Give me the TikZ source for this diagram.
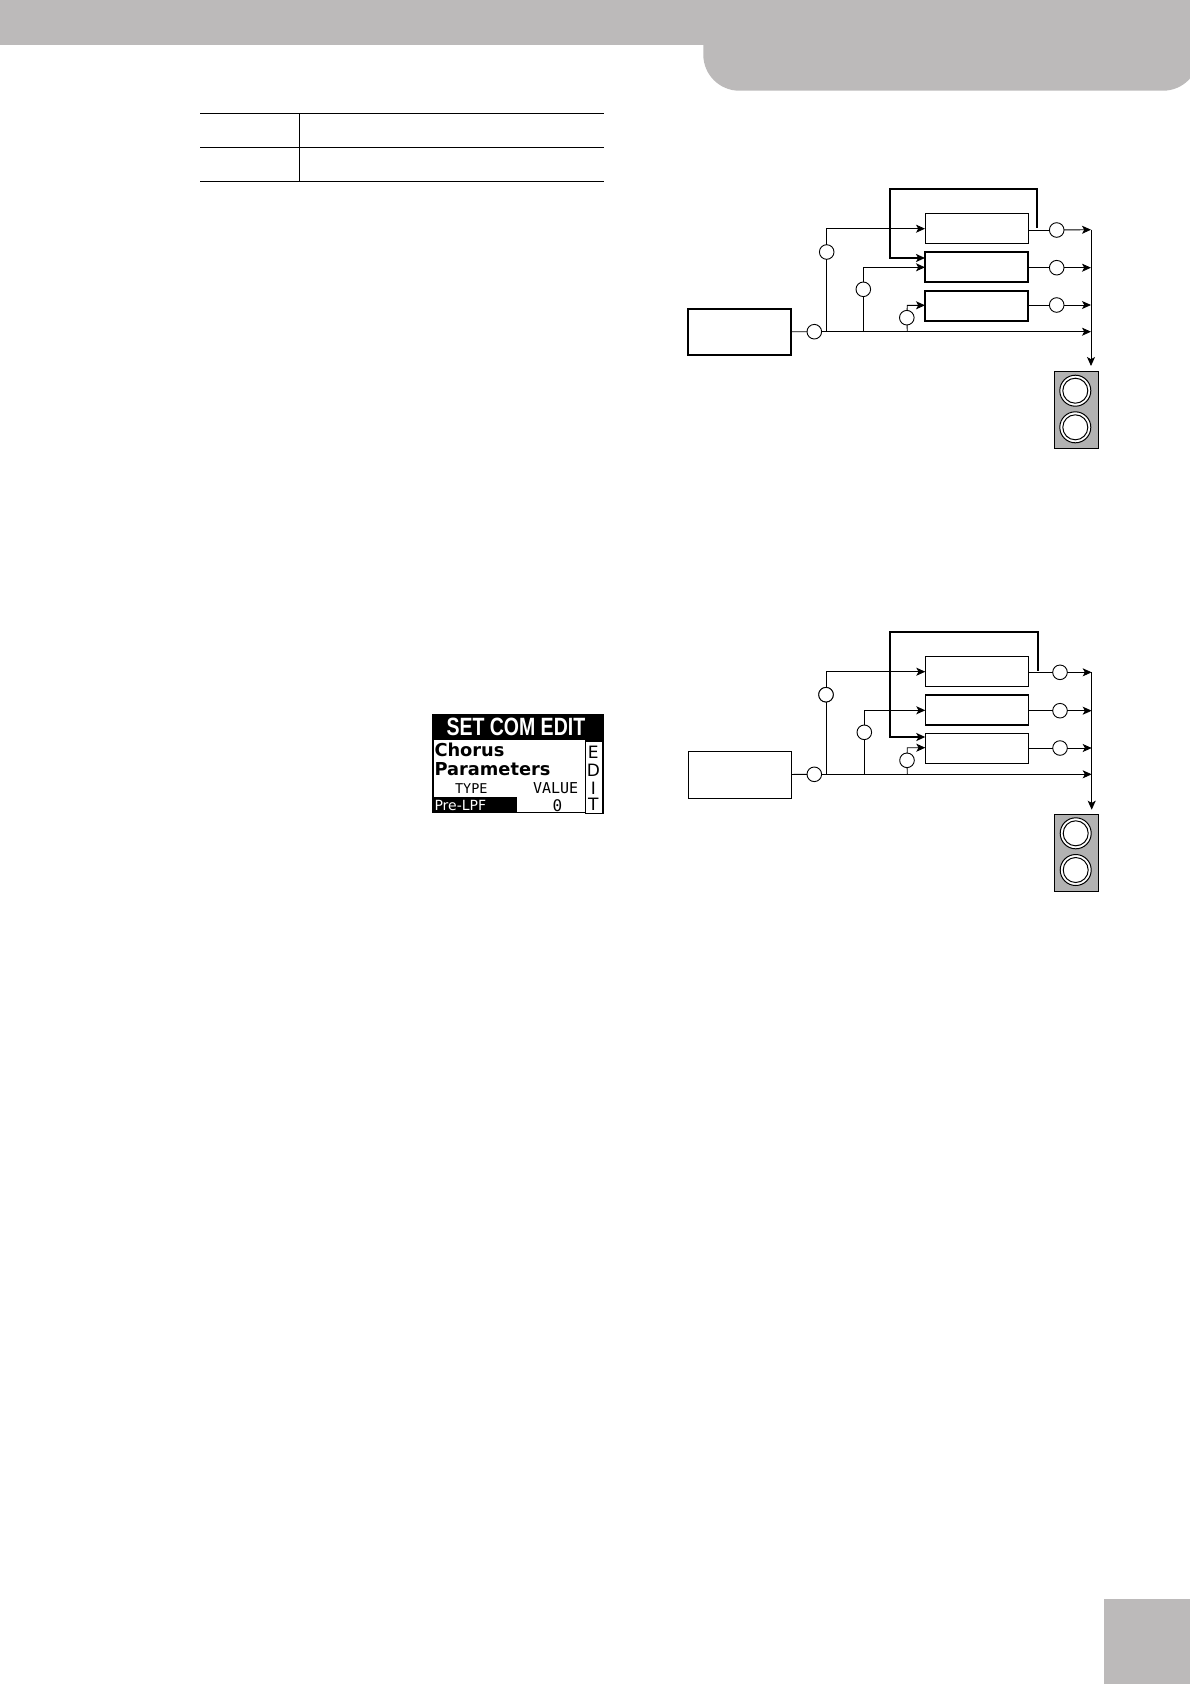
\documentclass[tikz,border=0pt]{standalone}
\usepackage{fontspec}
\setmainfont{DejaVu Sans}
\newfontfamily\lcdmono{DejaVu Sans Mono}
\newfontfamily\lcdcond{Liberation Sans}
\usetikzlibrary{arrows.meta}
\definecolor{band}{HTML}{BCBABA}
\definecolor{spk}{HTML}{B2B2B2}
\tikzset{
  thinbox/.style={draw=black,line width=1pt,fill=white,inner sep=0pt,outer sep=0pt},
  thickbox/.style={draw=black,line width=1.7pt,fill=white,inner sep=0pt,outer sep=0pt},
  level/.style={circle,draw=black,line width=0.9pt,fill=white,minimum size=14.6pt,inner sep=0pt,outer sep=0pt},
  wire/.style={draw=black,line width=0.9pt},
  arr/.style={wire,-{Stealth[length=9pt,width=8pt,inset=2.2pt]}},
  fb/.style={draw=black,line width=1.7pt},
  fbarr/.style={fb,-{Stealth[length=9pt,width=8pt,inset=2.2pt]}},
  spkbox/.style={draw=black,line width=0.9pt,fill=spk,inner sep=0pt,outer sep=0pt,minimum width=44pt,minimum height=77pt},
  cone/.style={circle,draw=black,line width=1pt,fill=white,minimum size=31pt,inner sep=0pt,outer sep=0pt},
  conein/.style={circle,draw=black,line width=1pt,fill=white,minimum size=25pt,inner sep=0pt,outer sep=0pt},
  rule/.style={draw=black,line width=0.9pt},
  lcdtxt/.style={inner sep=0pt,outer sep=0pt,anchor=base west},
  lcdside/.style={inner sep=0pt,outer sep=0pt,font=\fontsize{17}{17}\selectfont},
}
\begin{document}
\begin{tikzpicture}[x=1pt,y=-1pt]
\useasboundingbox (0,0) rectangle (1190,1684);
% page furniture
\begin{scope}
\clip (0,0) rectangle (1190,1684);
\fill[band] (0,0) rectangle (1190,44.7);
\fill[band,rounded corners=36pt] (703.3,30) -- (703.3,90.7) -- (1199,90.7) -- (1199,30) [sharp corners] -- cycle;
\fill[band] (1104,1599) rectangle (1190,1684);
\end{scope}
% table
\coordinate (ta) at (200,113.3); \coordinate (tb) at (604,113.3);
\coordinate (tc) at (200,147.3); \coordinate (td) at (604,147.3);
\coordinate (te) at (200,181.3); \coordinate (tf) at (604,181.3);
\coordinate (tg) at (299.3,113.3); \coordinate (th) at (299.3,181.3);
\draw[rule] (ta) -- (tb); \draw[rule] (tc) -- (td); \draw[rule] (te) -- (tf); \draw[rule] (tg) -- (th);
% LCD
\node[fill=black,inner sep=0pt,minimum width=171.5pt,minimum height=99.5pt,anchor=north west] (lcd) at (432,713.5) {};
\node[fill=white,inner sep=0pt,minimum width=169pt,minimum height=72pt,anchor=north west] (lcdbody) at (433.5,739.5) {};
\node[lcdtxt,text=white] (lcdhead) at (446.5,735.5) {\lcdcond\bfseries\fontsize{25}{25}\selectfont\scalebox{0.78}[1]{SET COM EDIT}};
\node[lcdtxt] (lcdch) at (434.5,756) {\fontsize{17.8}{17.8}\selectfont\bfseries Chorus};
\node[lcdtxt] (lcdpa) at (434.5,775.5) {\fontsize{17.8}{17.8}\selectfont\bfseries Parameters};
\node[lcdtxt] (lcdty) at (455,793) {\lcdmono\fontsize{13.5}{13.5}\selectfont TYPE};
\node[lcdtxt] (lcdva) at (533,793) {\lcdmono\fontsize{15}{15}\selectfont VALUE};
\node[fill=black,inner sep=0pt,minimum width=85pt,minimum height=16pt,anchor=north west] (lcdsel) at (432,796.5) {};
\node[lcdtxt,text=white] (lcdpre) at (434.5,810) {\fontsize{14}{14}\selectfont Pre-LPF};
\node[lcdtxt] (lcdz) at (552.5,811) {\lcdmono\fontsize{16}{16}\selectfont 0};
\node[draw=black,line width=1.6pt,fill=white,inner sep=0pt,minimum width=17.5pt,minimum height=72.5pt,anchor=north west] (lcdsidebox) at (584.5,740) {};
\node[lcdside] (lcde1) at (593.3,752.5) {E};
\node[lcdside] (lcdd) at (593.3,770.5) {D};
\node[lcdside] (lcdi) at (593.3,788) {I};
\node[lcdside] (lcdt) at (593.3,804.5) {T};
% ===== diagram 1
\node[thickbox,minimum width=103.3pt,minimum height=46pt] (as) at (739.4,332) {};
\node[level] (ac0) at (814.3,331.7) {};
\node[level] (ac1) at (826.7,252) {};
\node[level] (ac2) at (863.3,289.3) {};
\node[level] (ac3) at (906.8,317.7) {};
\node[thinbox,minimum width=103pt,minimum height=30pt] (ab1) at (976.8,228.5) {};
\node[thickbox,minimum width=103pt,minimum height=30pt] (ab2) at (976.8,266.8) {};
\node[thickbox,minimum width=103pt,minimum height=30pt] (ab3) at (976.8,306) {};
\node[level] (ao1) at (1056.7,230) {};
\node[level] (ao2) at (1056.7,267.7) {};
\node[level] (ao3) at (1056.7,305) {};
\coordinate (aj1) at (826.7,331.7); \coordinate (aj2) at (863.3,331.7); \coordinate (aj3) at (907.3,331.7);
\coordinate (at1) at (826.7,228.7); \coordinate (at2) at (863.3,267.3); \coordinate (at3) at (907.3,305.3);
\coordinate (ae1) at (925,228.7); \coordinate (ae2) at (925,267.3); \coordinate (ae3) at (925,305.3);
\coordinate (ar1) at (1091,229.7); \coordinate (ar2) at (1091,267.7); \coordinate (ar3) at (1091,305); \coordinate (ar4) at (1091,331.7); \coordinate (ar5) at (1091,366);
\coordinate (afs) at (1037,227.5); \coordinate (af1) at (1037,189); \coordinate (af2) at (890,189); \coordinate (af3) at (890,258); \coordinate (afe) at (925,258);
\draw[wire] (as) -- (ac0);
\draw[arr] (ac0) -- (ar4);
\draw[wire] (aj1) -- (ac1); \draw[arr] (ac1) -- (at1) -- (ae1);
\draw[wire] (aj2) -- (ac2); \draw[arr] (ac2) -- (at2) -- (ae2);
\draw[wire] (aj3) -- (ac3); \draw[arr] (ac3) -- (at3) -- (ae3);
\draw[wire] (ab1.east |- ao1) -- (ao1); \draw[arr] (ao1) -- (ar1);
\draw[wire] (ab2.east |- ao2) -- (ao2); \draw[arr] (ao2) -- (ar2);
\draw[wire] (ab3.east |- ao3) -- (ao3); \draw[arr] (ao3) -- (ar3);
\draw[fbarr] (afs) -- (af1) -- (af2) -- (af3) -- (afe);
\node[spkbox] (asp) at (1076.3,409.8) {};
\node[cone] (ac1o) at (1075.3,390.7) {};
\node[conein] (ac1i) at (1075.3,390.7) {};
\node[cone] (ac2o) at (1075.3,427.3) {};
\node[conein] (ac2i) at (1075.3,427.3) {};
\draw[arr] (ar1) -- (ar5);
% ===== diagram 2
\node[thinbox,minimum width=103.3pt,minimum height=47pt] (bs) at (740,774.8) {};
\node[level] (bc0) at (814.3,774.3) {};
\node[level] (bc1) at (826,694.7) {};
\node[level] (bc2) at (864.3,732.3) {};
\node[level] (bc3) at (907,760.3) {};
\node[thinbox,minimum width=103pt,minimum height=30pt] (bb1) at (977,671.3) {};
\node[thickbox,minimum width=103pt,minimum height=30pt] (bb2) at (977,710) {};
\node[thinbox,minimum width=103pt,minimum height=30pt] (bb3) at (977,748.3) {};
\node[level] (bo1) at (1060,672.3) {};
\node[level] (bo2) at (1060,710.7) {};
\node[level] (bo3) at (1060,748) {};
\coordinate (bj1) at (826.7,774.3); \coordinate (bj2) at (864.3,774.3); \coordinate (bj3) at (907.3,774.3);
\coordinate (bt1) at (826.7,671.7); \coordinate (bt2) at (864.3,710.3); \coordinate (bt3) at (907.3,747.7);
\coordinate (be1) at (925.3,671.7); \coordinate (be2) at (925.3,710.3); \coordinate (be3) at (925.3,747.7);
\coordinate (br1) at (1091.7,672.3); \coordinate (br2) at (1091.7,710.7); \coordinate (br3) at (1091.7,748); \coordinate (br4) at (1091.7,774.3); \coordinate (br5) at (1091.7,809.7);
\coordinate (bfs) at (1038,670.7); \coordinate (bf1) at (1038,631.7); \coordinate (bf2) at (890,631.7); \coordinate (bf3) at (890,737); \coordinate (bfe) at (925.3,737);
\draw[wire] (bs) -- (bc0);
\draw[arr] (bc0) -- (br4);
\draw[wire] (bj1) -- (bt1 |- bc1); \draw[arr] (bt1 |- bc1) -- (bt1) -- (be1);
\draw[wire] (bj2) -- (bc2); \draw[arr] (bc2) -- (bt2) -- (be2);
\draw[wire] (bj3) -- (bc3); \draw[arr] (bc3) -- (bt3) -- (be3);
\draw[wire] (bb1.east |- bo1) -- (bo1); \draw[arr] (bo1) -- (br1);
\draw[wire] (bb2.east |- bo2) -- (bo2); \draw[arr] (bo2) -- (br2);
\draw[wire] (bb3.east |- bo3) -- (bo3); \draw[arr] (bo3) -- (br3);
\draw[fbarr] (bfs) -- (bf1) -- (bf2) -- (bf3) -- (bfe);
\node[level] (bc1b) at (826,694.7) {};
\node[spkbox] (bsp) at (1076.3,852.8) {};
\node[cone] (bc1o) at (1075.7,833.3) {};
\node[conein] (bc1i) at (1075.7,833.3) {};
\node[cone] (bc2o) at (1075.7,870) {};
\node[conein] (bc2i) at (1075.7,870) {};
\draw[arr] (br1) -- (br5);
\end{tikzpicture}
\end{document}
